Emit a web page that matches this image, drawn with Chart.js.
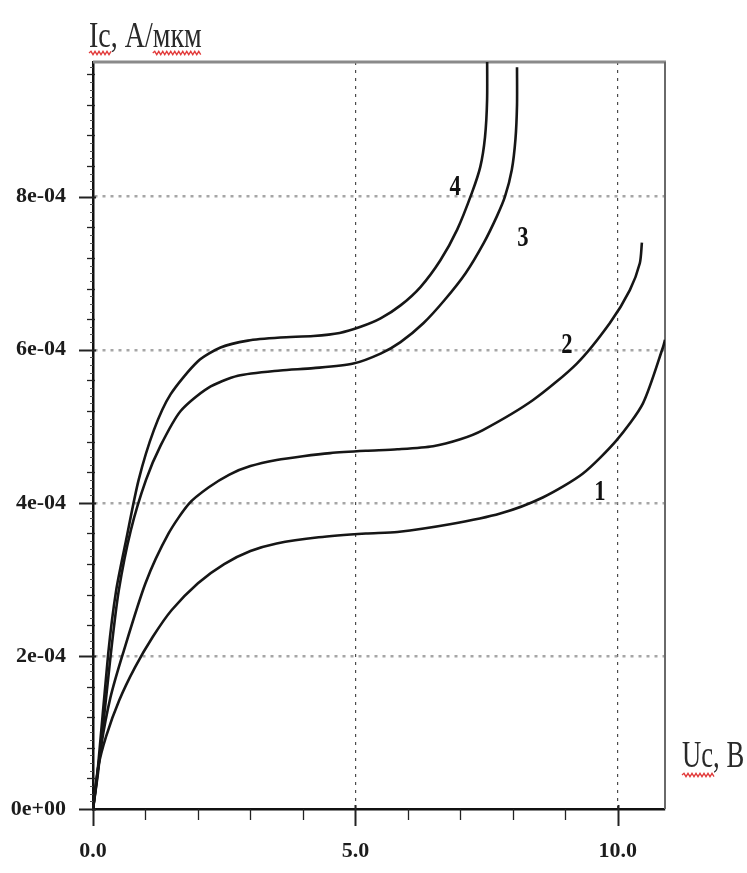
<!DOCTYPE html>
<html><head><meta charset="utf-8">
<script src="https://cdn.jsdelivr.net/npm/chart.js@4.4.1/dist/chart.umd.min.js"></script>
<style>html,body{margin:0;padding:0;background:#fff;overflow:hidden}#wrap{width:747px;height:873px}</style>
</head><body><div id="wrap"><canvas id="c" width="747" height="873"></canvas></div>
<script>
// ---- data ----
const xTickValues = [0, 5, 10];
const xTickLabels = ["0.0", "5.0", "10.0"];
const yTickValues = [0, 2e-4, 4e-4, 6e-4, 8e-4];
const yTickLabels = ["0e+00", "2e-04", "4e-04", "6e-04", "8e-04"];
const xTitle = "Uc, B";
const yTitle = "Ic, A/мкм";
const curveNames = ["1", "2", "3", "4"];

const u1 = [0, 0.1, 0.25, 0.5, 0.8, 1.14, 1.5, 2.0, 2.5, 3.0, 3.5, 4.3, 5.2, 5.8, 6.8, 7.76, 8.57, 9.33, 9.98, 10.48, 10.86, 10.9];
const i1 = [0, 5.5e-5, 9.5e-5, 1.42e-4, 1.85e-4, 2.25e-4, 2.6e-4, 2.95e-4, 3.2e-4, 3.37e-4, 3.47e-4, 3.55e-4, 3.6e-4, 3.62e-4, 3.72e-4, 3.86e-4, 4.07e-4, 4.38e-4, 4.82e-4, 5.3e-4, 6.03e-4, 6.13e-4];

const u2 = [0, 0.15, 0.33, 0.57, 1.0, 1.44, 1.83, 2.2, 2.6, 3.0, 3.5, 4.0, 4.52, 5.2, 5.8, 6.48, 7.0, 7.43, 8.38, 9.22, 9.85, 10.23, 10.42, 10.46];
const i2 = [0, 8.0e-5, 1.45e-4, 2.03e-4, 2.95e-4, 3.6e-4, 3.99e-4, 4.2e-4, 4.37e-4, 4.48e-4, 4.56e-4, 4.61e-4, 4.65e-4, 4.68e-4, 4.7e-4, 4.74e-4, 4.83e-4, 4.95e-4, 5.34e-4, 5.82e-4, 6.35e-4, 6.78e-4, 7.13e-4, 7.4e-4];

const u3 = [0, 0.1, 0.34, 0.49, 0.72, 1.01, 1.29, 1.67, 2.19, 2.76, 3.57, 4.2, 4.96, 5.48, 5.86, 6.3, 6.7, 7.1, 7.45, 7.7, 7.85, 7.98, 8.05, 8.08, 8.08];
const i3 = [0, 5e-5, 2.03e-4, 2.85e-4, 3.64e-4, 4.3e-4, 4.75e-4, 5.2e-4, 5.5e-4, 5.66e-4, 5.73e-4, 5.76e-4, 5.82e-4, 5.95e-4, 6.1e-4, 6.35e-4, 6.65e-4, 7.0e-4, 7.4e-4, 7.75e-4, 8.0e-4, 8.35e-4, 8.75e-4, 9.2e-4, 9.69e-4];

const u4 = [0, 0.08, 0.29, 0.44, 0.63, 0.87, 1.16, 1.48, 2.0, 2.43, 2.95, 3.57, 4.2, 4.7, 5.1, 5.48, 5.86, 6.24, 6.62, 6.94, 7.22, 7.38, 7.47, 7.51, 7.51];
const i4 = [0, 4.3e-5, 2.03e-4, 2.85e-4, 3.51e-4, 4.3e-4, 4.95e-4, 5.42e-4, 5.85e-4, 6.03e-4, 6.12e-4, 6.16e-4, 6.18e-4, 6.22e-4, 6.3e-4, 6.41e-4, 6.58e-4, 6.82e-4, 7.17e-4, 7.57e-4, 8.05e-4, 8.39e-4, 8.78e-4, 9.27e-4, 9.9e-4];

// label anchors (data coordinates)
const labelU = [9.66, 9.03, 8.19, 6.90];
const labelI = [4.14e-4, 6.06e-4, 7.46e-4, 8.12e-4];

// ---- build ----
const zip = (u, i) => u.map((v, k) => ({x: v, y: i[k]}));
const series = [zip(u1, i1), zip(u2, i2), zip(u3, i3), zip(u4, i4)];

const tickFont = {family: "'Liberation Serif', serif", size: 22, weight: 'bold'};

function wavy(ctx, x1, x2, y) {
  ctx.save();
  ctx.strokeStyle = '#e23b3b';
  ctx.lineWidth = 1.3;
  ctx.beginPath();
  let up = true;
  ctx.moveTo(x1, y);
  for (let x = x1 + 2; x <= x2; x += 2) {
    ctx.lineTo(x, up ? y - 1.7 : y + 1.7);
    up = !up;
  }
  ctx.stroke();
  ctx.restore();
}

const decor = {
  id: 'decor',
  beforeDatasetsDraw(chart) {
    const {ctx, chartArea: a, scales: {x, y}} = chart;
    ctx.save();
    // top & right frame
    ctx.strokeStyle = '#8a8a8a';
    ctx.lineWidth = 3;
    ctx.beginPath(); ctx.moveTo(a.left, a.top); ctx.lineTo(a.right + 1, a.top); ctx.stroke();
    ctx.strokeStyle = '#6a6a6a';
    ctx.lineWidth = 2;
    ctx.beginPath(); ctx.moveTo(a.right, a.top); ctx.lineTo(a.right, a.bottom); ctx.stroke();
    // y ticks
    ctx.strokeStyle = '#222';
    for (let k = 0; k <= 24; k++) {
      const v = k * 4e-5;
      const py = Math.round(y.getPixelForValue(v)) + 0.5;
      const major = k % 5 === 0;
      ctx.lineWidth = major ? 2 : 1.3;
      ctx.beginPath();
      ctx.moveTo(a.left - (major ? 14 : 6), py);
      ctx.lineTo(a.left + (major ? 3 : 2), py);
      ctx.stroke();
    }
    // tiny dots along y axis
    ctx.lineWidth = 1;
    ctx.strokeStyle = '#555';
    for (let k = 0; k <= 97; k++) {
      if (k % 4 === 0) continue;
      const py = Math.round(y.getPixelForValue(k * 1e-5)) + 0.5;
      ctx.beginPath(); ctx.moveTo(a.left - 3, py); ctx.lineTo(a.left, py); ctx.stroke();
    }
    // x ticks
    ctx.strokeStyle = '#222';
    for (let k = 0; k <= 10; k++) {
      const px = Math.round(x.getPixelForValue(k)) + 0.5;
      const major = k % 5 === 0;
      ctx.lineWidth = major ? 2 : 1.3;
      ctx.beginPath();
      ctx.moveTo(px, a.bottom - (major ? 4 : 0));
      ctx.lineTo(px, a.bottom + (major ? 17 : 11));
      ctx.stroke();
    }
    ctx.restore();
  },
  afterDraw(chart) {
    const {ctx, scales: {x, y}} = chart;
    ctx.save();
    ctx.fillStyle = '#2a2a2a';
    ctx.textBaseline = 'alphabetic';
    ctx.textAlign = 'left';
    // y title
    ctx.font = "35px 'Liberation Serif', serif";
    const sx = 0.8;
    ctx.save(); ctx.translate(89, 47); ctx.scale(sx, 1); ctx.fillText(yTitle, 0, 0); ctx.restore();
    const wIc = ctx.measureText('Ic').width * sx;
    const wPre = ctx.measureText('Ic, A/').width * sx;
    const wAll = ctx.measureText(yTitle).width * sx;
    wavy(ctx, 89, 89 + wIc + 2, 53);
    wavy(ctx, 89 + wPre, 89 + wAll, 53);
    // x title
    ctx.fillStyle = '#2a2a2a';
    ctx.font = "37px 'Liberation Serif', serif";
    const sx2 = 0.72;
    ctx.save(); ctx.translate(682, 767); ctx.scale(sx2, 1); ctx.fillText(xTitle, 0, 0); ctx.restore();
    const wUc = ctx.measureText('Uc').width * sx2;
    wavy(ctx, 682, 682 + wUc + 2, 775);
    // curve labels
    ctx.font = "bold 29px 'Liberation Serif', serif";
    ctx.fillStyle = '#111';
    ctx.textAlign = 'center';
    ctx.textBaseline = 'middle';
    curveNames.forEach((n, k) => {
      const px = x.getPixelForValue(labelU[k]);
      const py = y.getPixelForValue(labelI[k]);
      ctx.save(); ctx.translate(px, py); ctx.scale(0.78, 1); ctx.fillText(n, 0, 0); ctx.restore();
    });
    ctx.restore();
  }
};

new Chart(document.getElementById('c'), {
  type: 'line',
  data: {
    datasets: series.map((d, k) => ({
      label: curveNames[k],
      data: d,
      borderColor: '#161616',
      borderWidth: 2.6,
      pointRadius: 0,
      tension: 0.25,
      fill: false
    }))
  },
  options: {
    responsive: false,
    animation: false,
    layout: {padding: {left: 0, top: 62, right: 82, bottom: 0}},
    plugins: {legend: {display: false}, tooltip: {enabled: false}},
    scales: {
      x: {
        type: 'linear', min: 0, max: 10.9,
        afterFit: s => { s.height = 64; },
        afterBuildTicks: s => { s.ticks = xTickValues.map(v => ({value: v})); },
        ticks: {
          padding: 29, autoSkip: false, maxRotation: 0, color: '#1c1c1c', font: tickFont,
          callback: (v, i) => xTickLabels[i]
        },
        grid: {
          drawTicks: false, lineWidth: 1.2,
          color: c => (c.tick && c.tick.value === 0) ? 'rgba(0,0,0,0)' : '#4a4a4a'
        },
        border: {display: true, color: '#111', width: 2.5, dash: [3, 5]}
      },
      y: {
        type: 'linear', min: 0, max: 9.76e-4,
        afterFit: s => { s.width = 93; },
        afterBuildTicks: s => { s.ticks = yTickValues.map(v => ({value: v})); },
        ticks: {
          padding: 27, autoSkip: false, color: '#1c1c1c', font: tickFont,
          callback: (v, i) => yTickLabels[i]
        },
        grid: {
          drawTicks: false, lineWidth: 2.5,
          color: c => (c.tick && c.tick.value === 0) ? 'rgba(0,0,0,0)' : '#a6a6a6'
        },
        border: {display: true, color: '#111', width: 2.5, dash: [3, 5]}
      }
    }
  },
  plugins: [decor]
});
</script>
</body></html>
